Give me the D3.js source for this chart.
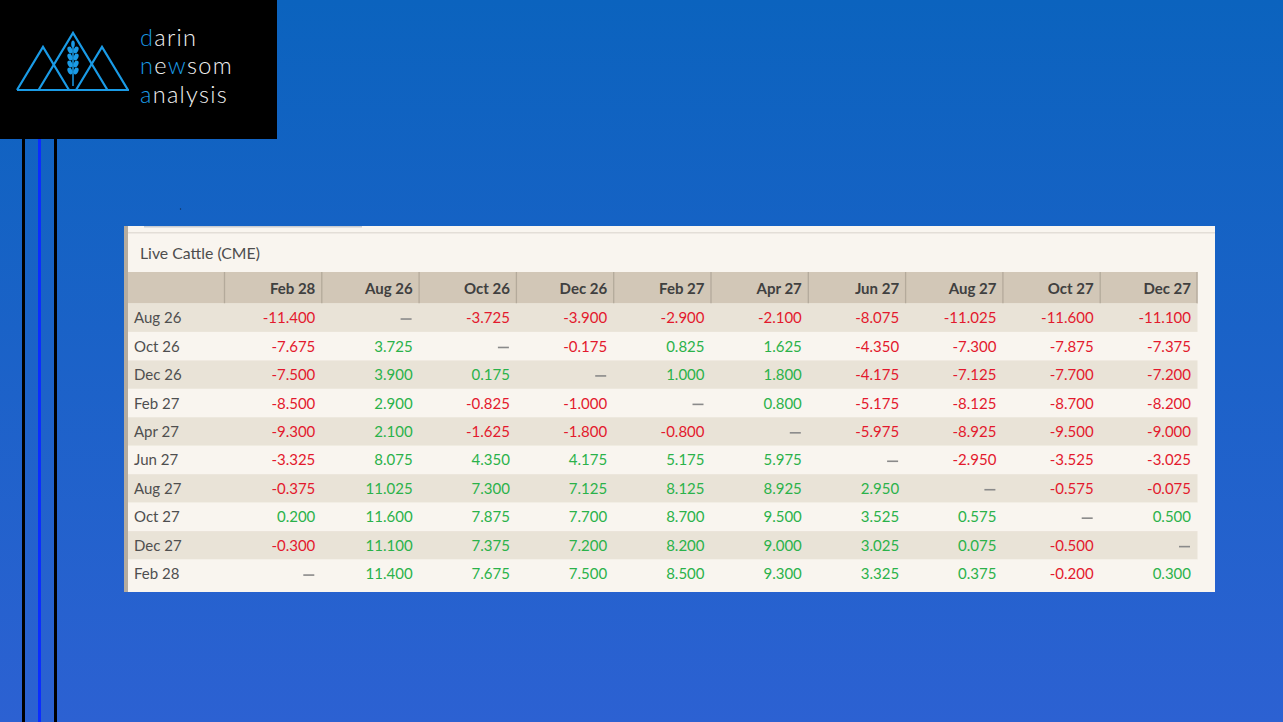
<!DOCTYPE html>
<html>
<head>
<meta charset="utf-8">
<script src="https://cdn.jsdelivr.net/npm/d3@7"></script>
<style>
  html, body { margin: 0; padding: 0; overflow: hidden; }
  svg { display: block; }
</style>
</head>
<body>
<svg id="chart" width="1283" height="722"></svg>
<script>
// ---------------- DATA ----------------
const title = "Live Cattle (CME)";
const columns = ["Feb 28", "Aug 26", "Oct 26", "Dec 26", "Feb 27", "Apr 27", "Jun 27", "Aug 27", "Oct 27", "Dec 27"];
const rowLabels = ["Aug 26", "Oct 26", "Dec 26", "Feb 27", "Apr 27", "Jun 27", "Aug 27", "Oct 27", "Dec 27", "Feb 28"];
// null = no spread (shown as a dash)
const rowAug26 = [-11.400, null, -3.725, -3.900, -2.900, -2.100, -8.075, -11.025, -11.600, -11.100];
const rowOct26 = [-7.675, 3.725, null, -0.175, 0.825, 1.625, -4.350, -7.300, -7.875, -7.375];
const rowDec26 = [-7.500, 3.900, 0.175, null, 1.000, 1.800, -4.175, -7.125, -7.700, -7.200];
const rowFeb27 = [-8.500, 2.900, -0.825, -1.000, null, 0.800, -5.175, -8.125, -8.700, -8.200];
const rowApr27 = [-9.300, 2.100, -1.625, -1.800, -0.800, null, -5.975, -8.925, -9.500, -9.000];
const rowJun27 = [-3.325, 8.075, 4.350, 4.175, 5.175, 5.975, null, -2.950, -3.525, -3.025];
const rowAug27 = [-0.375, 11.025, 7.300, 7.125, 8.125, 8.925, 2.950, null, -0.575, -0.075];
const rowOct27 = [0.200, 11.600, 7.875, 7.700, 8.700, 9.500, 3.525, 0.575, null, 0.500];
const rowDec27 = [-0.300, 11.100, 7.375, 7.200, 8.200, 9.000, 3.025, 0.075, -0.500, null];
const rowFeb28 = [null, 11.400, 7.675, 7.500, 8.500, 9.300, 3.325, 0.375, -0.200, 0.300];
const rowValues = [rowAug26, rowOct26, rowDec26, rowFeb27, rowApr27, rowJun27, rowAug27, rowOct27, rowDec27, rowFeb28];
const logoLines = [["d", "arin"], ["n", "e", "w", "som"], ["a", "nalysis"]];

// ---------------- DRAW ----------------
const W = 1283, H = 722;
const svg = d3.select("#chart");
const defs = svg.append("defs");
const grad = defs.append("linearGradient").attr("id", "bg").attr("x1", 0).attr("y1", 0).attr("x2", 0).attr("y2", 1);
grad.append("stop").attr("offset", "0%").attr("stop-color", "#0b63be");
grad.append("stop").attr("offset", "100%").attr("stop-color", "#2c61d2");
svg.append("rect").attr("width", W).attr("height", H).attr("fill", "url(#bg)");

// Vertical decorative lines
svg.append("rect").attr("x", 22).attr("y", 139).attr("width", 3).attr("height", H - 139).attr("fill", "#000");
svg.append("rect").attr("x", 38).attr("y", 139).attr("width", 3).attr("height", H - 139).attr("fill", "#0a2cff");
svg.append("rect").attr("x", 54).attr("y", 139).attr("width", 3).attr("height", H - 139).attr("fill", "#000");

// Logo box
svg.append("rect").attr("x", 0).attr("y", 0).attr("width", 277).attr("height", 139).attr("fill", "#000");
const logoBlue = "#1a9be6";
const lg = svg.append("g");
const tri = (ax, ay, by, slope) => `M${ax - (by - ay) * slope},${by}L${ax},${ay}L${ax + (by - ay) * slope},${by}`;
const slope = 26 / 43;
[[43, 47], [73, 33], [102, 47]].forEach(([ax, ay]) => {
  lg.append("path").attr("d", tri(ax, ay, 90, slope)).attr("fill", "none")
    .attr("stroke", logoBlue).attr("stroke-width", 2.2).attr("stroke-linejoin", "miter");
});
lg.append("line").attr("x1", 17).attr("x2", 129).attr("y1", 90).attr("y2", 90).attr("stroke", logoBlue).attr("stroke-width", 2.2);
// wheat ear
lg.append("line").attr("x1", 73).attr("x2", 73).attr("y1", 44).attr("y2", 86).attr("stroke", logoBlue).attr("stroke-width", 1.5);
[50, 57, 64, 71].forEach(y => {
  lg.append("ellipse").attr("cx", 70).attr("cy", y).attr("rx", 2.3).attr("ry", 3.5).attr("fill", logoBlue).attr("transform", `rotate(-25,70,${y})`);
  lg.append("ellipse").attr("cx", 76).attr("cy", y).attr("rx", 2.3).attr("ry", 3.5).attr("fill", logoBlue).attr("transform", `rotate(25,76,${y})`);
});
lg.append("ellipse").attr("cx", 73).attr("cy", 44).attr("rx", 1.8).attr("ry", 3.5).attr("fill", logoBlue);

const logoText = svg.append("g").attr("font-family", "Lato, 'Open Sans', sans-serif").attr("font-weight", 300)
  .attr("font-size", 23.5).attr("letter-spacing", 1.3);
logoLines.forEach((parts, i) => {
  const t = logoText.append("text").attr("x", 140).attr("y", 45.5 + i * 28.5);
  parts.forEach((p, j) => {
    const blue = (i === 1) ? (j === 0 || j === 2) : (j === 0);
    t.append("tspan").text(p).attr("fill", blue ? logoBlue : "#f2f2f2");
  });
});

// Panel
const panel = { x: 124, y: 226, w: 1091, h: 366 };
svg.append("rect").attr("x", panel.x).attr("y", panel.y).attr("width", panel.w).attr("height", panel.h).attr("fill", "#f9f5ef");
svg.append("rect").attr("x", panel.x).attr("y", panel.y).attr("width", 4).attr("height", panel.h).attr("fill", "#b5ac9f");
svg.append("rect").attr("x", 144).attr("y", 226).attr("width", 218).attr("height", 1.5).attr("fill", "#c7ccd2");
svg.append("rect").attr("x", 128).attr("y", 232).attr("width", panel.w - 4).attr("height", 1.5).attr("fill", "#e3ded7");
svg.append("circle").attr("cx", 180.5).attr("cy", 209).attr("r", 0.7).attr("fill", "#10305a");

svg.append("text").attr("x", 140).attr("y", 258.5).text(title)
  .attr("font-family", "Lato, sans-serif").attr("font-size", 15.8).attr("fill", "#4d4d4d");

// Scales
const labelLeft = 128, tableLeft = 224.5, tableRight = 1197.5;
const headerTop = 272, headerBottom = 303.5;
const rowH = 28.45;
const x = d3.scaleBand().domain(columns).range([tableLeft, tableRight]);
const y = d3.scaleBand().domain(rowLabels).range([headerBottom, headerBottom + rowH * rowLabels.length]);
const fmt = v => d3.format(".3f")(v).replace("\u2212", "-");

// Header
svg.append("rect").attr("x", labelLeft).attr("y", headerTop).attr("width", tableRight - labelLeft).attr("height", headerBottom - headerTop).attr("fill", "#d2c7b7");
const hdr = svg.append("g");
hdr.selectAll("line.div").data(columns.concat(["__end"])).join("line")
  .attr("x1", (d, i) => i < columns.length ? x(d) : tableRight - 0.5)
  .attr("x2", (d, i) => i < columns.length ? x(d) : tableRight - 0.5)
  .attr("y1", headerTop).attr("y2", headerBottom)
  .attr("stroke", "#b4aa9b").attr("stroke-width", 1.3);
hdr.selectAll("text").data(columns).join("text")
  .attr("x", d => x(d) + x.bandwidth() - 6.5).attr("y", 293.5)
  .attr("text-anchor", "end").text(d => d)
  .attr("font-family", "Lato, sans-serif").attr("font-weight", 700).attr("font-size", 15).attr("fill", "#404040");

// Row stripes
const rows = svg.append("g");
rows.selectAll("rect").data(rowLabels).join("rect")
  .attr("x", labelLeft).attr("y", d => y(d)).attr("width", tableRight - labelLeft).attr("height", y.bandwidth())
  .attr("fill", (d, i) => i % 2 === 0 ? "#e9e3d7" : "#f9f5ef");
rows.selectAll("text").data(rowLabels).join("text")
  .attr("x", 134).attr("y", d => y(d) + y.bandwidth() / 2 + 5.5).text(d => d)
  .attr("font-family", "Lato, sans-serif").attr("font-size", 15).attr("fill", "#4f4f4f");

// Cells
const cells = [];
rowValues.forEach((vals, ri) => vals.forEach((v, ci) => cells.push({ r: rowLabels[ri], c: columns[ci], v })));
const cg = svg.append("g");
cg.selectAll("text").data(cells.filter(d => d.v !== null)).join("text")
  .attr("x", d => x(d.c) + x.bandwidth() - 6.5)
  .attr("y", d => y(d.r) + y.bandwidth() / 2 + 5.5)
  .attr("text-anchor", "end")
  .text(d => fmt(d.v))
  .attr("font-family", "Lato, sans-serif").attr("font-size", 15)
  .attr("fill", d => d.v < 0 ? "#e3192d" : "#2bb24a");
cg.selectAll("rect.dash").data(cells.filter(d => d.v === null)).join("rect")
  .attr("class", "dash")
  .attr("x", d => x(d.c) + x.bandwidth() - 18.5).attr("y", d => y(d.r) + y.bandwidth() / 2 + 0.5)
  .attr("width", 11).attr("height", 1.6).attr("fill", "#8a8a8a");
</script>
</body>
</html>
